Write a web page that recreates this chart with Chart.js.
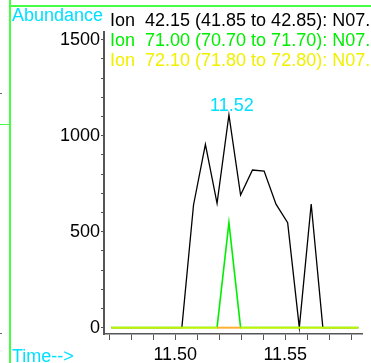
<!DOCTYPE html>
<html>
<head>
<meta charset="utf-8">
<script src="https://cdn.jsdelivr.net/npm/chart.js@4.4.1/dist/chart.umd.min.js"></script>
<style>
  body { margin: 0; background: #fff; }
  #wrap { position: relative; width: 371px; height: 363px; overflow: hidden;
          font-family: "Liberation Sans", Arial, sans-serif; font-size: 18px; }
  #wrap canvas { position: absolute; left: 0; top: 0; }
  .lbl { position: absolute; white-space: pre; line-height: 20px; z-index: 2; }
  .frame { position: absolute; background: #44ff44; z-index: 3; }
  .dot { position: absolute; background: #666; width: 2px; height: 1px; }
</style>
</head>
<body>
<div id="wrap">
  <canvas id="ticChart" width="371" height="363"></canvas>
  <div class="frame" style="left:9px;top:0;width:2px;height:363px"></div>
  <div class="frame" style="left:10px;top:5px;width:361px;height:2px"></div>
  <div class="frame" style="left:0;top:124px;width:10px;height:1px"></div>
  <div class="dot" style="left:0;top:93px"></div>
  <div class="dot" style="left:0;top:333px"></div>
  <div class="lbl" style="left:12px;top:5px;color:#00e0ff">Abundance</div>
  <div class="lbl" style="left:12px;top:346px;color:#00e0ff">Time--&gt;</div>
  <div id="legend"></div>
</div>
<script>
// retention time (min) and abundance for each extracted ion
const times = [11.4709, 11.4763, 11.4816, 11.4870, 11.4923, 11.4977, 11.5030, 11.5083,
  11.5137, 11.5190, 11.5244, 11.5297, 11.5351, 11.5404, 11.5458, 11.5511,
  11.5564, 11.5618, 11.5671, 11.5725, 11.5778, 11.5832];
const ion42 = [0, 0, 0, 0, 0, 0, 0, 639, 955, 648, 1108, 691, 821, 816, 643, 547, 0, 644, 0, 0, 0, 0];
const ion71 = [0, 0, 0, 0, 0, 0, 0, 0, 0, 0, 547, 0, 0, 0, 0, 0, 0, 0, 0, 0, 0, 0];
const ion72 = [0, 0, 0, 0, 0, 0, 0, 0, 0, 0, 0, 0, 0, 0, 0, 0, 0, 0, 0, 0, 0, 0];

const ionNames = [
  'Ion  42.15 (41.85 to 42.85): N07.D',
  'Ion  71.00 (70.70 to 71.70): N07.D',
  'Ion  72.10 (71.80 to 72.80): N07.D'
];
const ionColors = ['#000000', '#00ee00', '#f0f000'];

const xTickLabels = ['11.50', '11.55'];
const yTickLabels = [0, 500, 1000, 1500];

// legend text
const legend = document.getElementById('legend');
ionNames.forEach((name, i) => {
  const d = document.createElement('div');
  d.className = 'lbl';
  d.style.left = '110px';
  d.style.top = (10 + i * 20) + 'px';
  d.style.color = ionColors[i];
  d.textContent = name;
  legend.appendChild(d);
});

const toPoints = arr => times.map((t, i) => ({ x: t, y: arr[i] }));

const peakLabel = {
  id: 'peakLabel',
  afterDatasetsDraw(chart) {
    let best = 0;
    ion42.forEach((v, i) => { if (v > ion42[best]) best = i; });
    const x = chart.scales.x.getPixelForValue(times[best]);
    const y = chart.scales.y.getPixelForValue(ion42[best]);
    const ctx = chart.ctx;
    ctx.save();
    ctx.fillStyle = '#00e0ff';
    ctx.font = '18px "Liberation Sans"';
    ctx.textAlign = 'center';
    ctx.fillText(times[best].toFixed(2), x + 3, y - 4);
    ctx.restore();
  }
};

const axisFont = { family: 'Liberation Sans', size: 18 };

new Chart(document.getElementById('ticChart'), {
  type: 'line',
  data: {
    datasets: [
      { label: ionNames[0], data: toPoints(ion42), borderColor: ionColors[0], borderWidth: 1.3, order: 3 },
      { label: ionNames[1], data: toPoints(ion71), borderColor: ionColors[1], borderWidth: 1.6, order: 2 },
      {
        label: ionNames[2], data: toPoints(ion72), borderColor: 'rgba(255,245,0,0.75)', borderWidth: 2, order: 1,
        segment: {
          borderColor: c => (ion71[c.p0DataIndex] || ion71[c.p1DataIndex]) ? '#ffb030' : undefined
        }
      }
    ]
  },
  options: {
    responsive: false,
    animation: false,
    layout: { padding: { left: 0, top: 32, right: 9, bottom: 0 } },
    elements: { point: { radius: 0 }, line: { tension: 0 } },
    plugins: { legend: { display: false }, tooltip: { enabled: false } },
    scales: {
      x: {
        type: 'linear',
        min: 11.4676,
        max: 11.5849,
        afterFit: s => { s.height = 29; },
        border: { display: true, color: '#555', width: 1.5 },
        grid: { drawOnChartArea: false, drawTicks: true, tickLength: 6, color: '#555' },
        ticks: {
          stepSize: 0.01, maxTicksLimit: 50, includeBounds: false, autoSkip: false, maxRotation: 0,
          padding: 4, color: '#000', font: axisFont,
          callback: v => xTickLabels.includes(v.toFixed(2)) ? v.toFixed(2) : ''
        }
      },
      y: {
        min: -33,
        max: 1540,
        afterFit: s => { s.width = 104; },
        border: { display: true, color: '#555', width: 2 },
        grid: { drawOnChartArea: false, drawTicks: true, tickLength: 3, color: '#555' },
        ticks: {
          stepSize: 100, maxTicksLimit: 50, includeBounds: false, autoSkip: false, padding: 1,
          color: '#000', font: axisFont,
          callback: v => yTickLabels.includes(v) ? String(v) : ''
        }
      }
    }
  },
  plugins: [peakLabel]
});
</script>
</body>
</html>
